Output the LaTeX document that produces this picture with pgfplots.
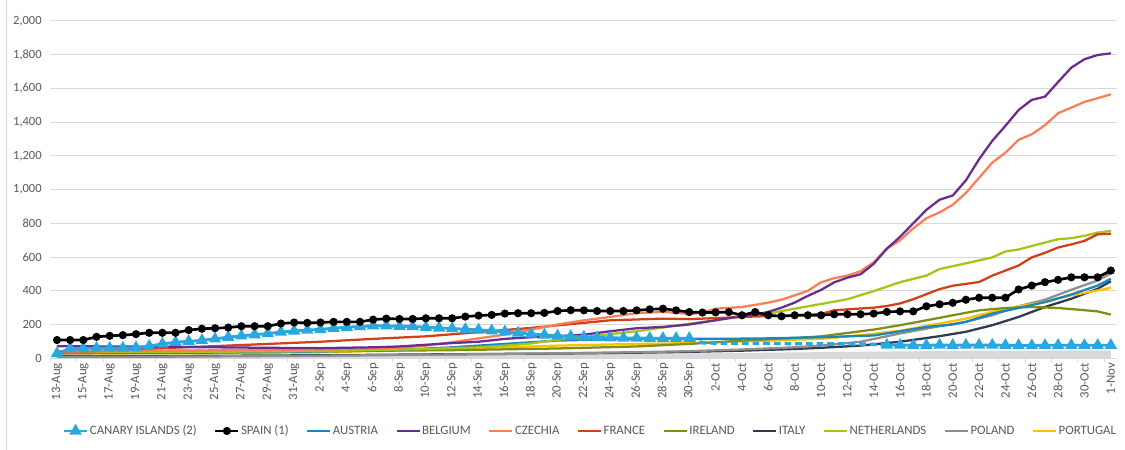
\documentclass[border=0pt]{standalone}
\usepackage{pgfplots}
\pgfplotsset{compat=1.18}
\usepackage{fontspec}
\setmainfont{Carlito}
\definecolor{txt}{HTML}{595959}
\definecolor{gridc}{HTML}{D9D9D9}
\definecolor{areag}{HTML}{D9D9D9}
\definecolor{canary}{HTML}{2AA7DF}
\definecolor{austria}{HTML}{1A86C0}
\definecolor{belgium}{HTML}{6A2C91}
\definecolor{czechia}{HTML}{FB7E55}
\definecolor{france}{HTML}{D2401A}
\definecolor{ireland}{HTML}{7F8F14}
\definecolor{italy}{HTML}{2E3B50}
\definecolor{netherlands}{HTML}{A4C416}
\definecolor{poland}{HTML}{8E8E8E}
\definecolor{portugal}{HTML}{FFC000}
\begin{document}
\begin{tikzpicture}[x=1pt,y=1pt]
\useasboundingbox (0,0) rectangle (843.75,337.5);
\draw[gridc, line width=0.75pt] (4.5,0) -- (4.5,337.5);
\begin{axis}[
  at={(37.8pt,68.8pt)}, anchor=south west,
  scale only axis, width=800.25pt, height=253pt,
  xmin=-0.5, xmax=80.5, ymin=0, ymax=2000,
  axis x line*=bottom, axis y line*=left,
  x axis line style={draw=gridc, line width=0.75pt},
  y axis line style={draw=none},
  ytick={0,200,...,2000},
  ymajorgrids, major grid style={gridc, line width=0.75pt},
  major tick length=0pt,
  minor xtick={-0.5,1.5,...,80.5},
  minor tick length=2.6pt, tick align=outside,
  minor tick style={gridc, line width=0.75pt},
  xtick={0,2,...,80},
  xticklabels={13-Aug,15-Aug,17-Aug,19-Aug,21-Aug,23-Aug,25-Aug,27-Aug,29-Aug,31-Aug,2-Sep,4-Sep,6-Sep,8-Sep,10-Sep,12-Sep,14-Sep,16-Sep,18-Sep,20-Sep,22-Sep,24-Sep,26-Sep,28-Sep,30-Sep,2-Oct,4-Oct,6-Oct,8-Oct,10-Oct,12-Oct,14-Oct,16-Oct,18-Oct,20-Oct,22-Oct,24-Oct,26-Oct,28-Oct,30-Oct,1-Nov},
  xticklabel style={rotate=90, anchor=east, font=\fontsize{9.6}{10}\selectfont, text=txt},
  yticklabel style={font=\fontsize{9.4}{10}\selectfont, text=txt, xshift=-3pt},
  /pgf/number format/assume math mode=true,
  /pgf/number format/1000 sep={,},
  legend columns=11,
  legend style={at={(0.5057,-0.2156)}, anchor=center, draw=none, fill=none,
    font=\fontsize{9.6}{10}\selectfont, text=txt,
    /tikz/every even column/.append style={column sep=12pt},
    nodes={inner xsep=1pt}},
  legend image code/.code={\draw[mark repeat=2,mark phase=2,#1] plot coordinates {(0pt,0pt) (8.6pt,0pt) (17.25pt,0pt)};},
]
% legend
\addlegendimage{canary, line width=2.2pt, mark=triangle*, mark size=3.2pt, mark options={solid}}
\addlegendentry{CANARY ISLANDS (2)}
\addlegendimage{black, line width=2pt, mark=*, mark size=2pt}
\addlegendentry{SPAIN (1)}
\addlegendimage{austria, line width=1.9pt}\addlegendentry{AUSTRIA}
\addlegendimage{belgium, line width=1.9pt}\addlegendentry{BELGIUM}
\addlegendimage{czechia, line width=1.9pt}\addlegendentry{CZECHIA}
\addlegendimage{france, line width=1.9pt}\addlegendentry{FRANCE}
\addlegendimage{ireland, line width=1.9pt}\addlegendentry{IRELAND}
\addlegendimage{italy, line width=1.9pt}\addlegendentry{ITALY}
\addlegendimage{netherlands, line width=1.9pt}\addlegendentry{NETHERLANDS}
\addlegendimage{poland, line width=1.9pt}\addlegendentry{POLAND}
\addlegendimage{portugal, line width=1.9pt}\addlegendentry{PORTUGAL}

% gray area
\addplot[draw=none, fill=areag, forget plot] coordinates {
(0,8) (10,12) (20,15) (30,20) (38,25) (50,30) (60,38) (70,45) (80,47)} \closedcycle;

% Italy
\addplot[italy, line width=1.7pt, forget plot] coordinates {
(0,12) (10,14) (20,18) (30,24) (38,28) (44,33) (48,38) (52,45) (56,55) (58,62) (61,75) (64,98) (67,131) (69,157) (71,196) (73,245) (75,304) (77,353) (79,412) (80,457)};
% Poland
\addplot[poland, line width=1.7pt, forget plot] coordinates {
(0,8) (10,10) (20,15) (30,22) (38,30) (44,36) (48,42) (52,52) (56,65) (58,75) (61,98) (64,147) (67,190) (69,216) (71,255) (73,308) (75,347) (77,406) (79,461) (80,504)};
% Portugal
\addplot[portugal, line width=1.7pt, forget plot] coordinates {
(0,28) (10,30) (20,35) (28,50) (34,65) (38,75) (42,82) (48,90) (52,100) (56,110) (58,115) (61,137) (64,163) (67,206) (69,235) (71,275) (73,308) (75,333) (77,373) (79,402) (80,418)};
% Ireland
\addplot[ireland, line width=1.7pt, forget plot] coordinates {
(0,42) (10,44) (20,42) (30,48) (38,58) (44,70) (48,85) (52,105) (56,120) (58,130) (60,150) (62,170) (64,196) (66,225) (68,255) (70,284) (72,298) (74,304) (76,298) (78,285) (79,278) (80,259)};
% Austria
\addplot[austria, line width=1.7pt, forget plot] coordinates {
(0,30) (10,32) (20,40) (26,50) (30,65) (34,85) (38,105) (42,112) (46,115) (50,115) (54,118) (58,125) (62,135) (64,160) (66,186) (68,200) (69,216) (71,265) (73,298) (75,333) (77,378) (79,431) (80,471)};
% Netherlands
\addplot[netherlands, line width=1.7pt, forget plot] coordinates {
(0,35) (8,38) (16,40) (20,42) (24,48) (28,55) (32,65) (34,75) (36,88) (38,110) (40,125) (42,143) (44,160) (46,182) (48,205) (50,226) (52,249) (54,265) (56,294) (58,322) (60,350) (62,398) (64,451) (66,490) (67,529) (69,563) (71,598) (72,633) (73,645) (75,686) (76,706) (77,712) (78,726) (79,745) (80,755)};
% France
\addplot[france, line width=1.7pt, forget plot] coordinates {
(0,35) (4,45) (8,60) (12,72) (16,85) (20,98) (24,115) (28,130) (32,155) (36,180) (40,210) (42,225) (44,230) (46,235) (48,232) (50,238) (52,245) (54,250) (56,255) (58,262) (59,284) (60,290) (62,300) (63,310) (64,325) (65,350) (66,380) (67,410) (68,430) (70,452) (71,490) (72,520) (73,550) (74,598) (75,625) (76,657) (77,675) (78,696) (79,735) (80,738)};
% Czechia
\addplot[czechia, line width=1.7pt, forget plot] coordinates {
(0,40) (4,42) (8,45) (12,47) (16,50) (20,52) (24,58) (26,62) (28,75) (30,95) (32,118) (34,140) (36,170) (38,200) (40,225) (42,245) (44,268) (46,275) (47,270) (48,262) (49,270) (50,294) (52,304) (54,330) (55,347) (56,373) (57,400) (58,450) (59,475) (60,490) (61,516) (62,569) (63,650) (64,700) (65,770) (66,830) (67,865) (68,910) (69,980) (70,1070) (71,1160) (72,1219) (73,1295) (74,1328) (75,1382) (76,1453) (77,1486) (78,1520) (79,1542) (80,1565)};
% Belgium
\addplot[belgium, line width=1.7pt, forget plot] coordinates {
(0,72) (4,70) (8,68) (12,65) (16,62) (20,60) (24,65) (26,70) (28,80) (30,90) (32,98) (34,115) (36,125) (38,130) (40,140) (42,160) (44,178) (46,186) (48,200) (50,225) (52,250) (53,258) (54,275) (55,300) (56,330) (57,370) (58,405) (59,450) (60,478) (61,498) (62,560) (63,650) (64,720) (65,800) (66,880) (67,940) (68,965) (69,1055) (70,1180) (71,1289) (72,1378) (73,1472) (74,1532) (75,1551) (76,1638) (77,1723) (78,1773) (79,1798) (80,1808)};

% Canary Islands
\addplot[canary, line width=2.2pt, mark=triangle*, mark size=3.2pt, forget plot] coordinates {
(0,28) (1,58) (2,59) (3,60) (4,60) (5,61) (6,63) (7,72) (8,85) (9,95) (10,100) (11,106) (12,115) (13,125) (14,133) (15,140) (16,146) (17,155) (18,162) (19,167) (20,171) (21,178) (22,184) (23,188) (24,192) (25,192) (26,190) (27,188) (28,184) (29,180) (30,176) (31,172) (32,168) (33,163) (34,157) (35,150) (36,143) (37,138) (38,133) (39,130) (40,126) (41,123) (42,121) (43,120) (44,120) (45,119) (46,118) (47,118) (48,118)};
\addplot[canary, line width=2.6pt, dash pattern=on 5pt off 3pt, forget plot] coordinates {
(48,118) (49,92) (50,90) (51,90) (52,88) (53,88) (54,88) (55,87) (56,86) (57,86) (58,86) (59,85) (60,85) (61,84) (62,82) (63,78)};
\addplot[canary, line width=2.2pt, mark=triangle*, mark size=3.2pt, forget plot] coordinates {
(63,78) (64,78) (65,77) (66,77) (67,78) (68,77) (69,78) (70,78) (71,78) (72,77) (73,76) (74,75) (75,77) (76,77) (77,77) (78,77) (79,77) (80,77)};

% Spain
\addplot[black, line width=2pt, mark=*, mark size=2pt, forget plot] coordinates {
(0,108) (1,108) (2,108) (3,127) (4,133) (5,137) (6,143) (7,151) (8,151) (9,151) (10,167) (11,175) (12,178) (13,182) (14,190) (15,190) (16,190) (17,206) (18,212) (19,210) (20,212) (21,216) (22,216) (23,216) (24,229) (25,235) (26,233) (27,233) (28,237) (29,237) (30,237) (31,247) (32,253) (33,257) (34,265) (35,267) (36,267) (37,269) (38,280) (39,285) (40,284) (41,280) (42,280) (43,280) (44,284) (45,290) (46,294) (47,284) (48,274) (49,271) (50,272) (51,274) (52,255) (53,274) (54,255) (55,249) (56,255) (57,255) (58,255) (59,261) (60,261) (61,261) (62,265) (63,275) (64,278) (65,278) (66,308) (67,320) (68,329) (69,347) (70,359) (71,359) (72,359) (73,408) (74,431) (75,451) (76,465) (77,480) (78,480) (79,480) (80,520)};
\end{axis}
\end{tikzpicture}
\end{document}
